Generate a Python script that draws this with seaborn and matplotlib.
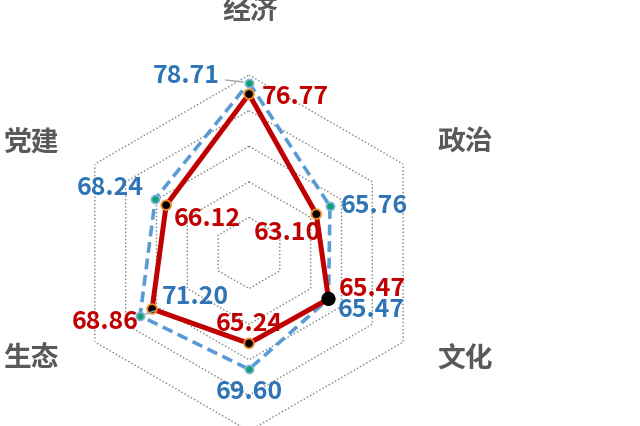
import numpy as np
import pandas as pd
import matplotlib
matplotlib.use("Agg")
import matplotlib.pyplot as plt
import seaborn as sns

# data
categories = ["经济", "政治", "文化", "社会", "生态", "党建"]
series_a_name = "系列1"
series_a = [78.71, 65.76, 65.47, 69.60, 71.20, 68.24]
series_b_name = "系列2"
series_b = [76.77, 63.10, 65.47, 65.24, 68.86, 66.12]
ring_levels = [56, 62, 68, 74, 80]
r_min, r_max = 50, 80

sns.set_theme(style="white")
plt.rcParams["font.family"] = ["Noto Sans CJK SC", "DejaVu Sans"]

BLUE_LINE = "#5b9bd5"
BLUE_TEXT = "#2e75b6"
RED = "#c00000"
GRID = "#7f7f7f"

n = len(categories)
theta = np.linspace(0, 2 * np.pi, n, endpoint=False)
theta_closed = np.append(theta, 2 * np.pi)


def closed_frame(name, values):
    return pd.DataFrame({
        "series": name,
        "theta": theta_closed,
        "value": list(values) + [values[0]],
    })


df_a = closed_frame(series_a_name, series_a)
df_b = closed_frame(series_b_name, series_b)

fig = plt.figure(figsize=(6.4, 4.26), dpi=100)
ax = fig.add_axes([71 / 640, -5 / 426, 356 / 640, 356 / 426], projection="polar")
ax.set_theta_zero_location("N")
ax.set_theta_direction(-1)
ax.set_ylim(r_min, r_max)
ax.grid(False)
ax.set_xticks([])
ax.set_yticks([])
ax.spines["polar"].set_visible(False)
ax.patch.set_alpha(0)

# hexagonal dotted rings
for lvl in ring_levels:
    ax.plot(theta_closed, [lvl] * (n + 1), linestyle=(0, (1, 1.6)), color=GRID,
            linewidth=1.0, zorder=1)

sns.lineplot(data=df_a, x="theta", y="value", sort=False, estimator=None,
             color=BLUE_LINE, linewidth=2.6, linestyle=(0, (3, 1.6)),
             legend=False, ax=ax, zorder=2)
ax.scatter(theta, series_a, s=34, color="#14a06a", edgecolors="#7fb3e0",
           linewidths=1.2, zorder=3)

sns.lineplot(data=df_b, x="theta", y="value", sort=False, estimator=None,
             color=RED, linewidth=3.6, legend=False, ax=ax, zorder=4)
b_edges = ["#f08a24", "#f08a24", "black", "#f08a24", "#f08a24", "#f08a24"]
b_sizes = [48, 48, 80, 48, 48, 48]
ax.scatter(theta, series_b, s=b_sizes, color="black", edgecolors=b_edges,
           linewidths=1.3, zorder=5)
ax.set_xlabel("")
ax.set_ylabel("")

# value labels (offsets in pixels from each point)
a_offsets = [(-63, 7), (44, 0), (43, -11), (0, -23), (55, 19), (-45, 11)]
b_offsets = [(46, -3), (-29, -19), (44, 10), (0, 19), (-47, -13), (41, -14)]
label_font = dict(fontsize=18, fontweight="bold",
                  family=["Noto Sans CJK SC", "DejaVu Sans"])
leader = dict(arrowstyle="-", color="#a6a6a6", lw=1.0, shrinkA=2, shrinkB=4)

for i, (t, v) in enumerate(zip(theta, series_a)):
    arrow = leader if i in (0, 4) else None
    ax.annotate(f"{v:.2f}", xy=(t, v), xytext=a_offsets[i], textcoords="offset pixels",
                ha="center", va="center", color=BLUE_TEXT, zorder=6,
                annotation_clip=False, arrowprops=arrow, **label_font)
for i, (t, v) in enumerate(zip(theta, series_b)):
    ax.annotate(f"{v:.2f}", xy=(t, v), xytext=b_offsets[i], textcoords="offset pixels",
                ha="center", va="center", color=RED, zorder=6,
                annotation_clip=False, **label_font)

# category labels, offset from the outer vertices
cat_offsets = [(1, 63), (62, 21), (62, -18), (0, -63), (-64, -16), (-64, 21)]
for t, name, off in zip(theta, categories, cat_offsets):
    ax.annotate(name, xy=(t, r_max), xytext=off, textcoords="offset pixels",
                ha="center", va="center", color="#595959", fontsize=20,
                fontweight="bold", annotation_clip=False,
                family=["Noto Sans CJK SC", "DejaVu Sans"])

fig.savefig("out.png", dpi=100)
plt.close(fig)
